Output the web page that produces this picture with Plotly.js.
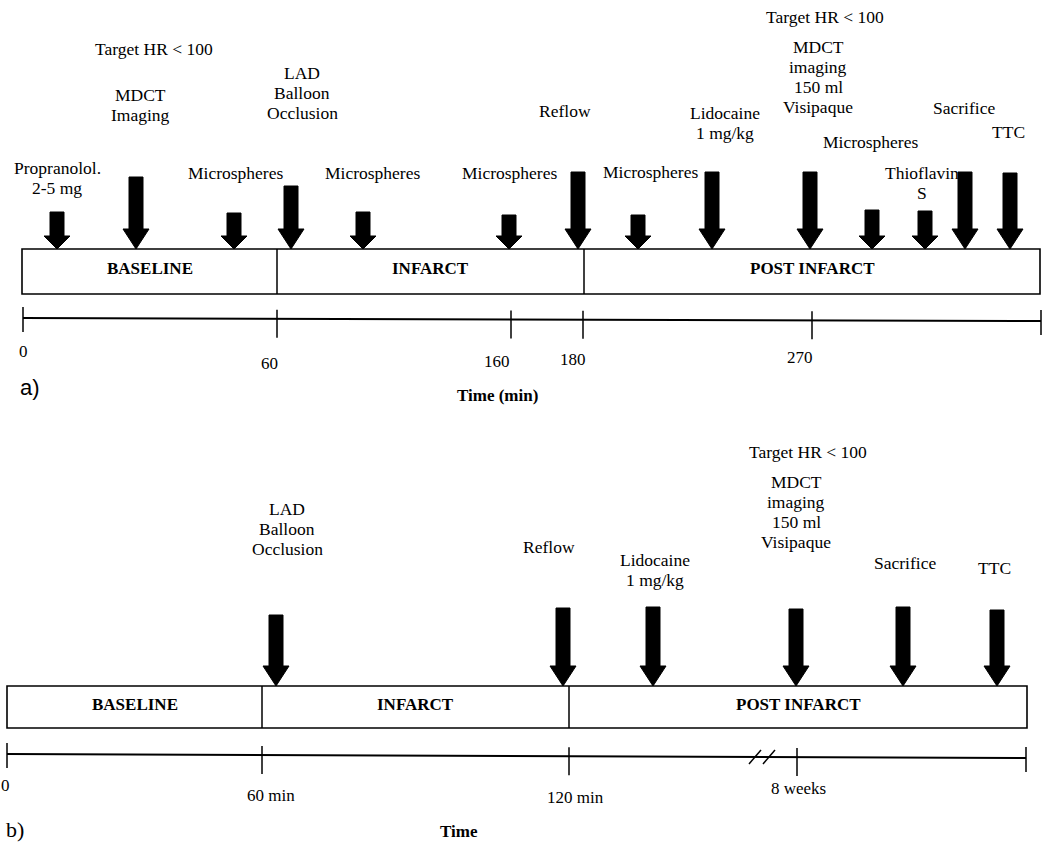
<!DOCTYPE html>
<html>
<head>
<meta charset="utf-8">
<script src="https://cdn.plot.ly/plotly-3.0.1.min.js"></script>
<style>html,body{margin:0;padding:0;background:#fff;}#chart{width:1050px;height:848px;}</style>
</head>
<body>
<div id="chart"></div>
<script>
// ---------------- Panel a data (schematic timeline positions) ----------------
const aPhaseNames = ['BASELINE', 'INFARCT', 'POST INFARCT'];
const aPhaseEdges = [22, 277, 584, 1040];
const aBoxTopBottom = [249, 294];
const aPhaseLabelY = 268;

const aArrowX    = [57, 136, 234, 291, 363, 509, 578, 638, 712, 810, 872, 925, 965, 1010];
const aArrowTop  = [212, 177, 213, 186, 212, 215, 172, 215, 172, 172, 210, 211, 172, 173];
const aArrowKind = ['small','big','small','big','small','small','big','small','big','big','small','small','big','big'];

const aLabelText = [
  ['Target HR < 100'],
  ['MDCT', 'Imaging'],
  ['LAD', 'Balloon', 'Occlusion'],
  ['Propranolol.', '2-5 mg'],
  ['Microspheres'],
  ['Microspheres'],
  ['Microspheres'],
  ['Reflow'],
  ['Microspheres'],
  ['Lidocaine', '1 mg/kg'],
  ['Target HR < 100'],
  ['MDCT', 'imaging', '150 ml', 'Visipaque'],
  ['Microspheres'],
  ['Thioflavin', 'S'],
  ['Sacrifice'],
  ['TTC']
];
const aLabelX = [154, 140, 302, 57, 235, 372, 509, 565, 650, 725, 825, 818, 870, 922, 964, 1008];
const aLabelY = [49, 95, 73, 168, 173, 173, 173, 111, 172, 113, 17, 47, 142, 173, 108, 132];

const aAxisLine = [[23, 318], [1041, 321]];
const aTickPos = [23, 277, 511, 583, 812, 1041];
const aTickLabels = ['0', '60', '160', '180', '270', ''];
const aTickLabelX = [23, 269, 497, 573, 800, 1041];
const aTickLabelY = [351, 363, 361, 359, 357, 357];
const aAxisTitle = 'Time (min)';
const aPanelTag = 'a)';

// ---------------- Panel b data ----------------
const bPhaseNames = ['BASELINE', 'INFARCT', 'POST INFARCT'];
const bPhaseEdges = [7, 262, 569, 1027];
const bBoxTopBottom = [686, 728];
const bPhaseLabelY = 704;

const bArrowX   = [276, 563, 653, 796, 903, 997];
const bArrowTop = [615, 608, 607, 609, 607, 610];
const bArrowKind = ['big','big','big','big','big','big'];

const bLabelText = [
  ['LAD', 'Balloon', 'Occlusion'],
  ['Reflow'],
  ['Lidocaine', '1 mg/kg'],
  ['Target HR < 100'],
  ['MDCT', 'imaging', '150 ml', 'Visipaque'],
  ['Sacrifice'],
  ['TTC']
];
const bLabelX = [287, 549, 655, 808, 796, 905, 994];
const bLabelY = [509, 547, 560, 452, 482, 563, 568];

const bAxisLine = [[7, 754], [1026, 758]];
const bTickPos = [7, 262, 569, 797, 1026];
const bTickLabels = ['0', '60 min', '120 min', '8 weeks', ''];
const bTickLabelX = [5, 271, 575, 798, 1026];
const bTickLabelY = [785, 795, 797, 788, 788];
const bBreakAt = 762;
const bAxisTitle = 'Time';
const bPanelTag = 'b)';

// ---------------- build ----------------
const SERIF = 'Liberation Serif, Times New Roman, serif';
const shapes = [];
const annotations = [];

function line(x0, y0, x1, y1, w) {
  shapes.push({type: 'line', xref: 'x', yref: 'y', x0, y0, x1, y1,
    line: {color: '#000', width: w || 1.5}});
}
function text(x, y, t, opts) {
  opts = opts || {};
  annotations.push({x, y, xref: 'x', yref: 'y', text: t, showarrow: false,
    xanchor: opts.xanchor || 'center', yanchor: 'middle',
    font: {family: opts.family || SERIF, size: opts.size || 17.5, color: '#000'}});
}
function arrow(x, top, tip, kind) {
  const headLen = kind === 'big' ? 20 : 13;
  const sw = 7, hw = 13;
  const hs = tip - headLen;
  const p = `M ${x - sw},${top} L ${x + sw},${top} L ${x + sw},${hs} L ${x + hw},${hs} L ${x},${tip} L ${x - hw},${hs} L ${x - sw},${hs} Z`;
  shapes.push({type: 'path', xref: 'x', yref: 'y', path: p,
    fillcolor: '#000', line: {color: '#000', width: 1}});
}
function panel(P) {
  const [top, bot] = P.box;
  shapes.push({type: 'rect', xref: 'x', yref: 'y',
    x0: P.edges[0], x1: P.edges[P.edges.length - 1], y0: top, y1: bot,
    line: {color: '#000', width: 1.6}, fillcolor: 'rgba(0,0,0,0)'});
  for (let i = 1; i < P.edges.length - 1; i++) line(P.edges[i], top, P.edges[i], bot, 1.5);
  P.names.forEach((n, i) => {
    text((P.edges[i] + P.edges[i + 1]) / 2, P.phaseY, '<b>' + n + '</b>', {size: 17});
  });
  P.arrowX.forEach((x, i) => arrow(x, P.arrowTop[i], top, P.arrowKind[i]));
  P.labelText.forEach((lines, i) => {
    lines.forEach((ln, j) => text(P.labelX[i], P.labelY[i] + j * 20, ln));
  });
  const [[lx0, ly0], [lx1, ly1]] = P.axis;
  line(lx0, ly0, lx1, ly1, 2);
  const yAt = x => ly0 + (ly1 - ly0) * (x - lx0) / (lx1 - lx0);
  P.tickPos.forEach((x, i) => {
    const y = yAt(x);
    const end = (i === 0 || i === P.tickPos.length - 1);
    line(x, y - (end ? 11 : 9), x, y + (end ? 14 : 19), 1.5);
    if (P.tickLabels[i]) text(P.tickLabelX[i], P.tickLabelY[i], P.tickLabels[i], {size: 17});
  });
  if (P.breakAt) {
    const y = yAt(P.breakAt);
    [-7, 7].forEach(d => line(P.breakAt + d - 6, y + 7, P.breakAt + d + 6, y - 7, 1.5));
  }
  text(P.titleX, P.titleY, '<b>' + P.title + '</b>', {size: 17});
  text(P.tagX, P.tagY, P.tag, {family: P.tagFamily, size: 22, xanchor: 'left'});
}

panel({names: aPhaseNames, edges: aPhaseEdges, box: aBoxTopBottom, phaseY: aPhaseLabelY,
  arrowX: aArrowX, arrowTop: aArrowTop, arrowKind: aArrowKind,
  labelText: aLabelText, labelX: aLabelX, labelY: aLabelY,
  axis: aAxisLine, tickPos: aTickPos, tickLabels: aTickLabels, tickLabelX: aTickLabelX, tickLabelY: aTickLabelY,
  title: aAxisTitle, titleX: 497, titleY: 395, tag: aPanelTag, tagX: 18, tagY: 387,
  tagFamily: 'Liberation Sans, Arial, sans-serif'});

panel({names: bPhaseNames, edges: bPhaseEdges, box: bBoxTopBottom, phaseY: bPhaseLabelY,
  arrowX: bArrowX, arrowTop: bArrowTop, arrowKind: bArrowKind,
  labelText: bLabelText, labelX: bLabelX, labelY: bLabelY,
  axis: bAxisLine, tickPos: bTickPos, tickLabels: bTickLabels, tickLabelX: bTickLabelX, tickLabelY: bTickLabelY,
  breakAt: bBreakAt,
  title: bAxisTitle, titleX: 459, titleY: 831, tag: bPanelTag, tagX: 4, tagY: 829,
  tagFamily: SERIF});

const layout = {
  width: 1050, height: 848,
  margin: {l: 0, r: 0, t: 0, b: 0, pad: 0},
  paper_bgcolor: '#fff', plot_bgcolor: '#fff',
  showlegend: false,
  xaxis: {range: [0, 1050], visible: false, fixedrange: true},
  yaxis: {range: [848, 0], visible: false, fixedrange: true},
  shapes, annotations
};
Plotly.newPlot('chart', [], layout, {staticPlot: true, displayModeBar: false});
</script>
</body>
</html>
